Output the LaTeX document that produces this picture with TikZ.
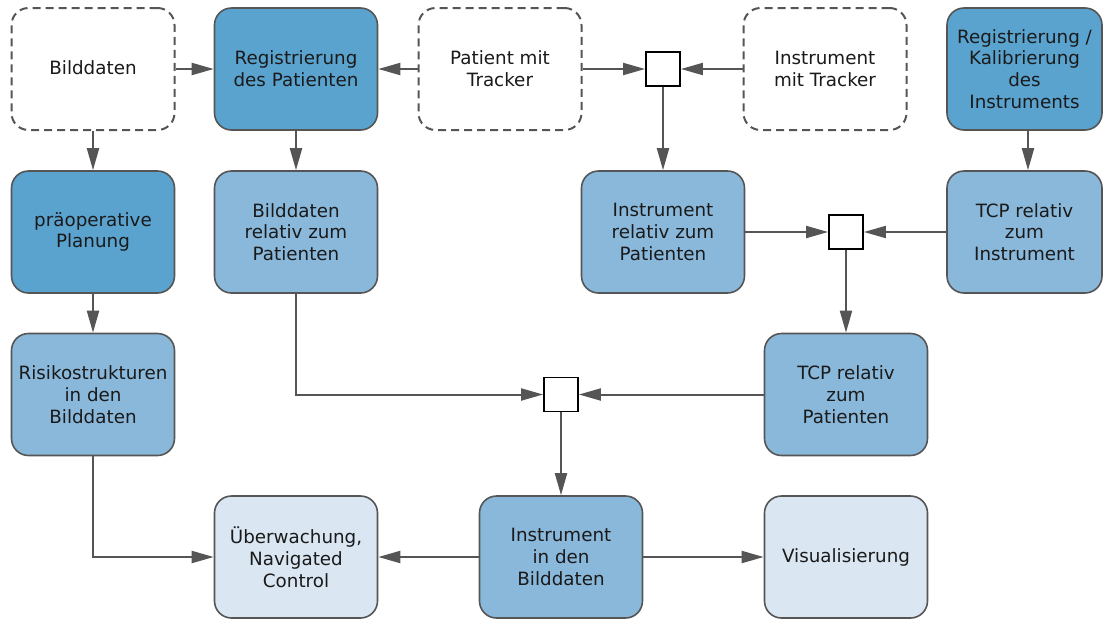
\documentclass[tikz,border=0pt]{standalone}
\usepackage{fontspec}
\setmainfont{DejaVu Sans}
\usetikzlibrary{arrows.meta}

\definecolor{darkblue}{HTML}{5BA3CF}
\definecolor{midblue}{HTML}{8AB8DB}
\definecolor{lightblue}{HTML}{DAE6F2}
\definecolor{edgegray}{HTML}{555555}
\definecolor{textgray}{HTML}{1A1A1A}

\tikzset{
  box/.style={draw=edgegray, line width=1.6pt, rounded corners=17pt,
    minimum width=163pt, minimum height=122pt, inner sep=0pt,
    align=center, text=textgray, font=\fontsize{18.3}{21.8}\selectfont},
  narrowbox/.style={box, minimum width=155pt},
  source/.style={box, line width=2pt, dashed, dash pattern=on 8pt off 5pt, fill=white},
  primary/.style={box, fill=darkblue},
  derived/.style={box, fill=midblue},
  result/.style={box, fill=lightblue},
  junction/.style={draw=black, line width=1.8pt, fill=white,
    minimum width=34pt, minimum height=34pt, inner sep=0pt},
  conn/.style={draw=edgegray, line width=2pt,
    -{Triangle[length=22pt, width=12pt]}},
}

\begin{document}
\begin{tikzpicture}[x=1pt, y=-1pt]
\useasboundingbox (0,0) rectangle (1103,622);

% top row: inputs and registration steps
\node[source]  (bild)    at (93,69)   {\raisebox{3pt}{Bilddaten}};
\node[primary] (regpat)  at (296,69)  {Registrierung\\des Patienten};
\node[source]  (patient) at (500,69)  {Patient mit\\Tracker};
\node[junction] (j1)     at (663,69)  {};
\node[source]  (insttr)  at (825,69)  {Instrument\\mit Tracker};
\node[primary, narrowbox] (regkal) at (1024.5,69) {Registrierung /\\Kalibrierung\\des\\Instruments};

% second row
\node[primary] (praeop)  at (93,232)  {präoperative\\Planung};
\node[derived] (bildrel) at (296,232) {Bilddaten\\relativ zum\\Patienten};
\node[derived] (instrel) at (663,232) {Instrument\\relativ zum\\Patienten};
\node[junction] (j2)     at (846,232) {};
\node[derived, narrowbox] (tcpinst) at (1024.5,232) {TCP relativ\\zum\\Instrument};

% third row
\node[derived] (risiko)  at (93,394.5)  {Risikostrukturen\\in den\\Bilddaten};
\node[junction] (j3)     at (561,394.5) {};
\node[derived] (tcppat)  at (846,394.5) {TCP relativ\\zum\\Patienten};

% bottom row: outputs
\node[result]  (ueberw)  at (296,557) {Überwachung,\\Navigated\\Control};
\node[derived] (instbild) at (561,557) {Instrument\\in den\\Bilddaten};
\node[result]  (visual)  at (846,557) {\raisebox{1pt}{Visualisierung}};

% connectors
\draw[conn] (bild) -- (regpat);
\draw[conn] (patient) -- (regpat);
\draw[conn] (patient) -- (j1);
\draw[conn] (insttr) -- (j1);
\draw[conn] (j1) -- (instrel);
\draw[conn] (bild) -- (praeop);
\draw[conn] (regpat) -- (bildrel);
\draw[conn] ([xshift=3.5pt]regkal.south) -- ([xshift=3.5pt]tcpinst.north);
\draw[conn] (instrel) -- (j2);
\draw[conn] (tcpinst) -- (j2);
\draw[conn] (j2) -- (tcppat);
\draw[conn] (praeop) -- (risiko);
\draw[conn] (bildrel.south) |- (j3);
\draw[conn] (tcppat) -- (j3);
\draw[conn] (j3) -- (instbild);
\draw[conn] (risiko.south) |- (ueberw);
\draw[conn] (instbild) -- (ueberw);
\draw[conn] (instbild) -- (visual);
\end{tikzpicture}
\end{document}
